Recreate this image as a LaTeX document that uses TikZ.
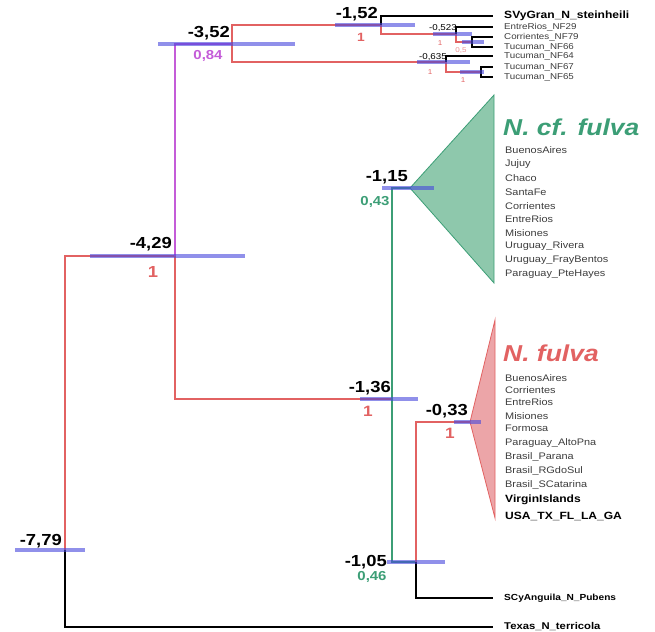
\documentclass[tikz,border=0pt]{standalone}
\usepackage{fontspec}
\setmainfont{Liberation Sans}[FakeStretch=1.15]
\usetikzlibrary{positioning}

\definecolor{redline}{RGB}{226,98,98}
\definecolor{redfill}{RGB}{236,165,168}
\definecolor{grnline}{RGB}{60,158,118}
\definecolor{grnfill}{RGB}{142,200,172}
\definecolor{purpline}{RGB}{196,92,216}
\definecolor{hpdblue}{RGB}{70,70,220}
\definecolor{tiplab}{RGB}{60,60,60}

\newcommand{\fs}[1]{\fontsize{#1}{#1}\selectfont}

\begin{document}
\begin{tikzpicture}[
  x=1pt, y=-1pt,
  blk/.style    = {draw=black, line width=1.3pt},
  redl/.style   = {draw=redline, line width=1.2pt},
  grnl/.style   = {draw=grnline, line width=1.2pt},
  purl/.style   = {draw=purpline, line width=1.2pt},
  hpd/.style    = {draw=hpdblue, draw opacity=0.6, line width=4.6pt},
  hpdsm/.style  = {hpd, line width=3.4pt},
  age/.style    = {font=\bfseries\fs{16}, inner sep=0pt, anchor=base east},
  agesm/.style  = {font=\fs{8.5}, inner sep=0pt, anchor=base east},
  post/.style   = {font=\bfseries\fs{13}, inner sep=0pt},
  postsm/.style = {font=\fs{7}, inner sep=0pt, text=redline},
  tip/.style    = {anchor=west, inner xsep=11pt, inner ysep=0pt, font=\fs{8.5}, text=tiplab},
  tipb/.style   = {tip, font=\bfseries\fs{9}, text=black},
  clade/.style  = {anchor=west, inner sep=0pt, font=\fs{9.5}, text=tiplab},
  cladeb/.style = {clade, font=\bfseries\fs{10.5}, text=black},
  title/.style  = {anchor=west, inner sep=0pt, font=\bfseries\itshape\fs{23}},
]
\useasboundingbox (0,0) rectangle (655,631);

% ---- internal nodes (ages) ----
\coordinate (n779)  at (65,550);
\coordinate (n429)  at (175,256);
\coordinate (n352)  at (232,44);
\coordinate (n152)  at (381,25);
\coordinate (n0523) at (456,34);
\coordinate (nsub1) at (472,42);
\coordinate (n0635) at (446,62);
\coordinate (nsub2) at (481,72);
\coordinate (n136)  at (392,399);
\coordinate (n115)  at (410,188);
\coordinate (n105)  at (416,562);
\coordinate (n033)  at (470,422);

% ---- collapsed clades ----
\filldraw[fill=grnfill, draw=grnline, line width=0.8pt] (n115) -- (494,95) -- (494,283) -- cycle;
\filldraw[fill=redfill, draw=redline, line width=0.8pt] (n033) -- (495,320) -- (495,518) -- cycle;

% ---- tips ----
\node[tipb, font=\bfseries\fs{10.5}] (svy) at (493,16) {SVyGran\_N\_steinheili};
\node[tip]  (er29) at (493,27) {EntreRios\_NF29};
\node[tip]  (co79) at (493,37) {Corrientes\_NF79};
\node[tip]  (tu66) at (493,47) {Tucuman\_NF66};
\node[tip]  (tu64) at (493,56) {Tucuman\_NF64};
\node[tip]  (tu67) at (493,67) {Tucuman\_NF67};
\node[tip]  (tu65) at (493,77) {Tucuman\_NF65};
\node[tipb, font=\bfseries\fs{8.8}] (scy) at (493,598) {SCyAnguila\_N\_Pubens};
\node[tipb, font=\bfseries\fs{9.8}] (texas) at (493,627) {Texas\_N\_terricola};

% ---- branches ----
\draw[redl] (n779) |- (n429);
\draw[blk]  (n779) |- (texas.west);
\draw[purl] (n429) |- (n352);
\draw[redl] (n429) |- (n136);
\draw[redl] (n352) |- (n152);
\draw[redl] (n352) |- (n0635);
\draw[blk]  (n152) |- (svy.west);
\draw[redl] (n152) |- (n0523);
\draw[blk]  (n0523) |- (er29.west);
\draw[redl] (n0523) |- (nsub1);
\draw[blk]  (nsub1) |- (co79.west);
\draw[blk]  (nsub1) |- (tu66.west);
\draw[blk]  (n0635) |- (tu64.west);
\draw[redl] (n0635) |- (nsub2);
\draw[blk]  (nsub2) |- (tu67.west);
\draw[blk]  (nsub2) |- (tu65.west);
\draw[grnl] (n136) |- (n115);
\draw[grnl] (n136) |- (n105);
\draw[redl] (n105) |- (n033);
\draw[blk]  (n105) |- (scy.west);

% ---- 95% HPD bars ----
\foreach \xa/\xb/\y in {15/85/550, 90/245/256, 158/295/44, 335/415/25,
                        360/418/399, 382/434/188, 387/445/562, 454/481/422}
  \draw[hpd] (\xa,\y) -- (\xb,\y);
\foreach \xa/\xb/\y in {433/472/34, 462/484/42, 417/470/62, 460/484/72}
  \draw[hpdsm] (\xa,\y) -- (\xb,\y);

% ---- ages ----
\node[age]   (a779)  at (62,545)  {-7,79};
\node[age]   (a429)  at (172,248) {-4,29};
\node[age]   (a352)  at (230,38)  {-3,52};
\node[age]   (a152)  at (378,19)  {-1,52};
\node[agesm] (a0523) at (457,31)  {-0,523};
\node[agesm] (a0635) at (447,60)  {-0,635};
\node[age]   (a115)  at (408,182) {-1,15};
\node[age]   (a136)  at (391,392) {-1,36};
\node[age]   (a033)  at (468,415) {-0,33};
\node[age]   (a105)  at (387,566) {-1,05};

% ---- posterior support ----
\node[post, text=purpline] (p352) at (208,56)  {0,84};
\node[post, text=redline, font=\bfseries\fs{12}] (p152) at (361,37) {1};
\node[postsm] (p0523) at (440,43) {1};
\node[postsm, text=redline!70] (psub1) at (461,51) {0,5};
\node[postsm] (p0635) at (430,72) {1};
\node[postsm] (psub2) at (463,80) {1};
\node[post, text=redline, font=\bfseries\fs{16}] (p429) at (153,272) {1};
\node[post, text=grnline] (p115) at (375,202) {0,43};
\node[post, text=redline, font=\bfseries\fs{15}] (p136) at (368,411) {1};
\node[post, text=redline, font=\bfseries\fs{15}] (p033) at (450,433) {1};
\node[post, text=grnline] (p105) at (372,577) {0,46};

% ---- N. cf. fulva ----
\node[title, text=grnline] (cftitle) at (503,127) {N. cf. fulva};
\foreach \y/\t in {150/BuenosAires, 164/Jujuy, 178/Chaco, 192/SantaFe,
                   206/Corrientes, 219/EntreRios, 233/Misiones,
                   246/Uruguay\_Rivera, 260/Uruguay\_FrayBentos, 274/Paraguay\_PteHayes}
  \node[clade] (cf\y) at (505,\y) {\t};

% ---- N. fulva ----
\node[title, text=redline] (futitle) at (503,353) {N. fulva};
\foreach \y/\t in {378/BuenosAires, 390/Corrientes, 402/EntreRios, 416/Misiones,
                   428/Formosa, 443/Paraguay\_AltoPna, 457/Brasil\_Parana,
                   471/Brasil\_RGdoSul, 485/Brasil\_SCatarina}
  \node[clade] (fu\y) at (505,\y) {\t};
\node[cladeb] (fuvi)  at (505,500) {VirginIslands};
\node[cladeb] (fuusa) at (505,516) {USA\_TX\_FL\_LA\_GA};

\end{tikzpicture}
\end{document}
